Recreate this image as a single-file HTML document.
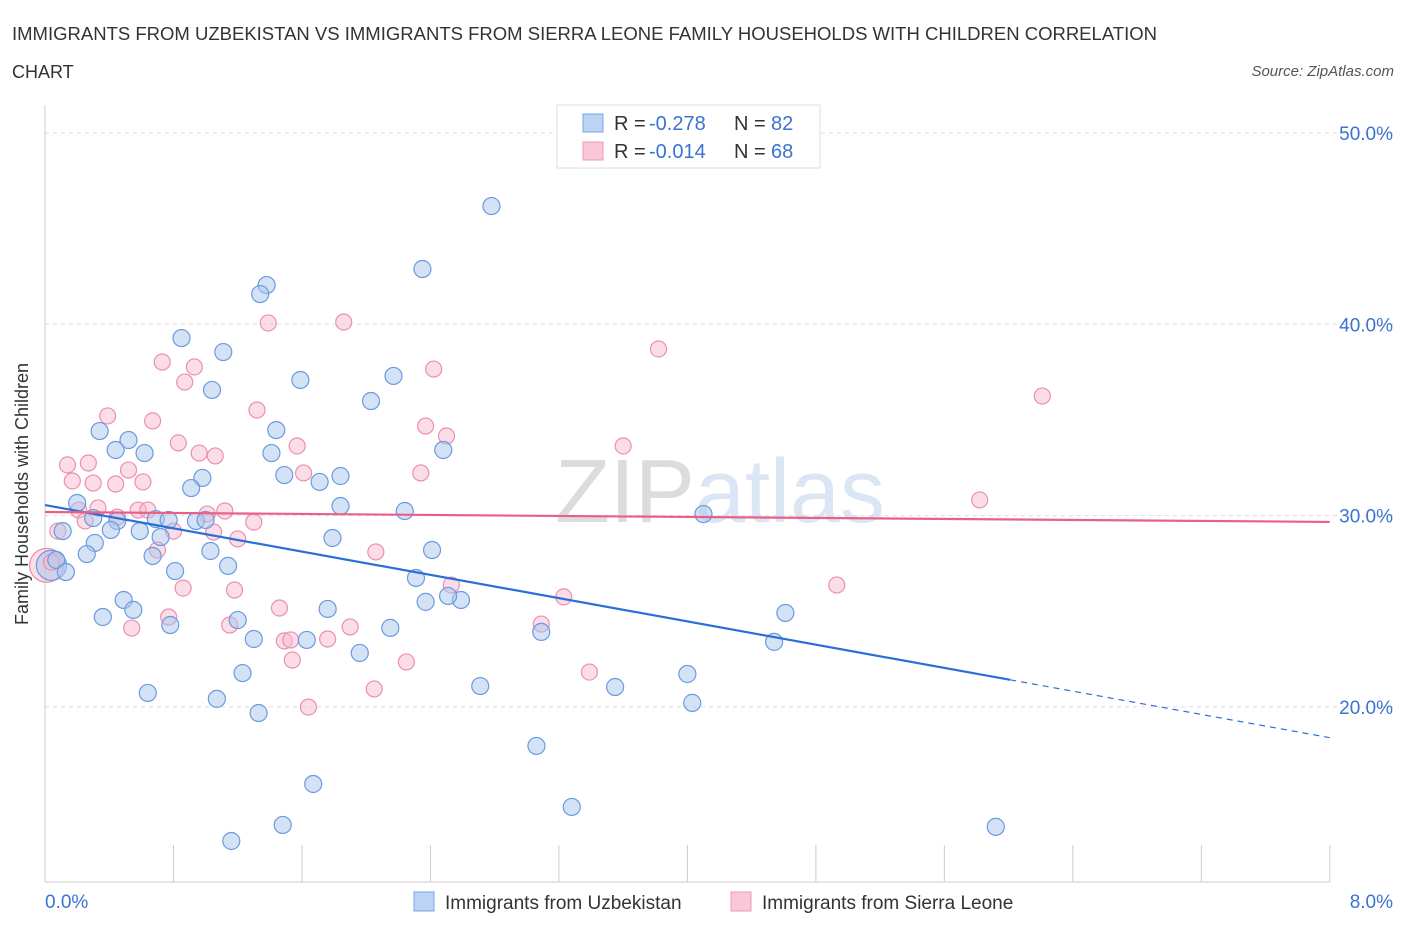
<!DOCTYPE html>
<html><head><meta charset="utf-8"><style>
body{margin:0;background:#fff;font-family:"Liberation Sans",sans-serif;}
svg text{font-family:"Liberation Sans",sans-serif;}
</style></head><body>
<svg width="1406" height="930" viewBox="0 0 1406 930">
<text x="12" y="40" font-size="18" fill="#333" textLength="1145" lengthAdjust="spacingAndGlyphs">IMMIGRANTS FROM UZBEKISTAN VS IMMIGRANTS FROM SIERRA LEONE FAMILY HOUSEHOLDS WITH CHILDREN CORRELATION</text>
<text x="12" y="78" font-size="18" fill="#333">CHART</text>
<text x="1394" y="76" font-size="15" fill="#555" font-style="italic" text-anchor="end">Source: ZipAtlas.com</text>
<text x="720" y="522" font-size="90" fill="#e8e8e8" text-anchor="middle" font-family="Liberation Serif"><tspan fill="#dcdcdc">ZIP</tspan><tspan fill="#dbe6f4" font-family="Liberation Sans">atlas</tspan></text>
<g id="grid"></g><g id="axes"></g>
<text x="28" y="494" font-size="18" fill="#333" text-anchor="middle" transform="rotate(-90 28 494)">Family Households with Children</text>
<g id="pts"></g><g id="trend"></g>
<g>
<rect x="557" y="105" width="263" height="63" fill="#fff" stroke="#ddd"/>
<rect x="583" y="114" width="20" height="18" fill="#bcd3f3" stroke="#7aa5e3"/>
<text x="614" y="130" font-size="20" fill="#333">R =</text>
<text x="649" y="130" font-size="20" fill="#3b73d1">-0.278</text>
<text x="734" y="130" font-size="20" fill="#333">N =</text>
<text x="771" y="130" font-size="20" fill="#3b73d1">82</text>
<rect x="583" y="142" width="20" height="18" fill="#f8c8d8" stroke="#ec9ab6"/>
<text x="614" y="158" font-size="20" fill="#333">R =</text>
<text x="649" y="158" font-size="20" fill="#3b73d1">-0.014</text>
<text x="734" y="158" font-size="20" fill="#333">N =</text>
<text x="771" y="158" font-size="20" fill="#3b73d1">68</text>
</g>
<g>
<rect x="414" y="892" width="20" height="19" fill="#bcd3f3" stroke="#7aa5e3"/>
<text x="445" y="909" font-size="19" fill="#333">Immigrants from Uzbekistan</text>
<rect x="731" y="892" width="20" height="19" fill="#f8c8d8" stroke="#ec9ab6"/>
<text x="762" y="909" font-size="19" fill="#333">Immigrants from Sierra Leone</text>
</g>
</svg>
<script>
const xTicks=[0,8];
const yTicks=[20,30,40,50];
const blueX=[2.78,2.35,1.38,1.34,0.85,1.11,2.17,1.59,1.04,2.03,0.34,1.44,0.52,0.44,0.62,1.41,2.48,0.98,0.91,1.49,1.71,1.84,0.20,1.84,2.24,4.10,0.30,0.45,0.69,0.77,0.94,1.00,0.11,0.41,0.59,0.72,1.79,0.31,1.03,2.41,0.26,0.67,0.07,1.14,0.13,0.81,2.31,0.49,0.55,1.20,2.37,2.59,2.51,1.76,4.61,0.36,0.78,1.30,1.63,2.15,3.09,4.54,1.96,1.23,4.00,2.71,3.55,0.64,1.07,4.03,1.33,3.06,1.67,3.28,1.48,1.16,5.92];
const blueY=[46.18,42.89,42.05,41.58,39.28,38.55,37.30,37.09,36.57,35.99,34.42,34.47,33.95,33.43,33.27,33.27,33.43,31.97,31.44,32.12,31.76,32.07,30.66,30.50,30.24,30.08,29.87,29.72,29.82,29.77,29.72,29.77,29.19,29.25,29.19,28.88,28.83,28.57,28.15,28.20,27.99,27.89,27.68,27.37,27.05,27.10,26.74,25.59,25.07,24.54,25.49,25.59,25.80,25.12,24.91,24.70,24.28,23.55,23.50,24.13,23.92,23.40,22.82,21.77,21.72,21.09,21.04,20.73,20.42,20.21,19.68,17.96,15.97,14.77,13.83,12.99,13.73];
const pinkX=[1.86,1.39,3.82,0.73,0.93,2.42,0.87,6.21,0.39,1.32,0.67,2.37,2.50,0.83,1.57,3.60,0.96,1.06,0.14,0.27,0.52,1.61,2.34,0.17,0.30,0.44,0.61,5.82,0.33,0.21,0.58,0.64,1.12,1.01,0.45,0.25,1.30,0.80,0.08,1.20,1.05,0.70,2.06,0.04,2.53,4.93,0.86,1.18,3.23,1.46,0.77,0.54,1.15,1.90,3.09,1.49,1.53,1.76,1.54,2.25,3.39,2.05,1.64];
const pinkY=[40.12,40.07,38.71,38.03,37.77,37.66,36.98,36.25,35.21,35.52,34.95,34.68,34.16,33.80,33.64,33.64,33.27,33.12,32.65,32.75,32.38,32.23,32.23,31.81,31.70,31.65,31.76,30.82,30.40,30.29,30.29,30.29,30.24,30.08,29.92,29.72,29.66,29.19,29.19,28.78,29.14,28.20,28.10,27.57,26.37,26.37,26.21,26.11,25.75,25.17,24.70,24.12,24.28,24.18,24.33,23.45,23.50,23.55,22.45,22.35,21.82,20.94,19.99];
const bigBlue=[0.04,27.4], bigPink=[0.01,27.4];
const blueTrend=[30.55,-1.52], pinkTrend=[30.19,-0.065];
const NS='http://www.w3.org/2000/svg';
const X=v=>45+v*160.6, Y=v=>133+(50-v)*19.13;
function mk(t,a,p){const e=document.createElementNS(NS,t);for(const k in a)e.setAttribute(k,a[k]);p.appendChild(e);return e;}
const grid=document.getElementById('grid'),axes=document.getElementById('axes');
yTicks.forEach(v=>{const l=mk('line',{x1:45,x2:1395,y1:Y(v),y2:Y(v),stroke:'#ddd','stroke-dasharray':'4 4'},grid);


const t=mk('text',{x:1393,y:Y(v)+7,'font-size':19,fill:'#3b73d1','text-anchor':'end'},axes);t.textContent=v.toFixed(1)+'%';

});
const ax=mk('line',{x1:45,x2:45,y1:105,y2:882,stroke:'#ccc'},axes);


const bx=mk('line',{x1:45,x2:1330,y1:882,y2:882,stroke:'#ccc'},axes);


for(let i=0;i<=10;i++){mk('line',{x1:X(i*0.8),x2:X(i*0.8),y1:845,y2:882,stroke:'#ccc'},axes);}
xTicks.forEach((v,i)=>{const t=mk('text',{x:i?1393:45,y:908,'font-size':19,fill:'#3b73d1','text-anchor':i?'end':'start'},axes);t.textContent=v.toFixed(1)+'%';

});
const pts=document.getElementById('pts');
function dot(x,y,r,c,name){const e=mk('circle',{cx:X(x),cy:Y(y),r:r,fill:c[0],'fill-opacity':0.5,stroke:c[1],'stroke-width':1.2},pts);

}
const BC=['#a9c6ee','#6a9ae0'],PC=['#f6bccf','#ec8fae'];
dot(bigPink[0],bigPink[1],17,PC,'sierra-leone-point');
dot(bigBlue[0],bigBlue[1],15,BC,'uzbekistan-point');
pinkX.forEach((x,i)=>dot(x,pinkY[i],8,PC,'sierra-leone-point'));
blueX.forEach((x,i)=>dot(x,blueY[i],8.5,BC,'uzbekistan-point'));
const tr=document.getElementById('trend');
const bf=x=>blueTrend[0]+blueTrend[1]*x, pf=x=>pinkTrend[0]+pinkTrend[1]*x;
const l1=mk('line',{x1:X(0),y1:Y(bf(0)),x2:X(6.01),y2:Y(bf(6.01)),stroke:'#2b6fd6','stroke-width':2.2},tr);


const l2=mk('line',{x1:X(6.01),y1:Y(bf(6.01)),x2:X(8),y2:Y(bf(8)),stroke:'#2b6fd6','stroke-width':1.2,'stroke-dasharray':'6 5'},tr);


const l3=mk('line',{x1:X(0),y1:Y(pf(0)),x2:X(8),y2:Y(pf(8)),stroke:'#e8608a','stroke-width':2.2},tr);


</script>
</body></html>
